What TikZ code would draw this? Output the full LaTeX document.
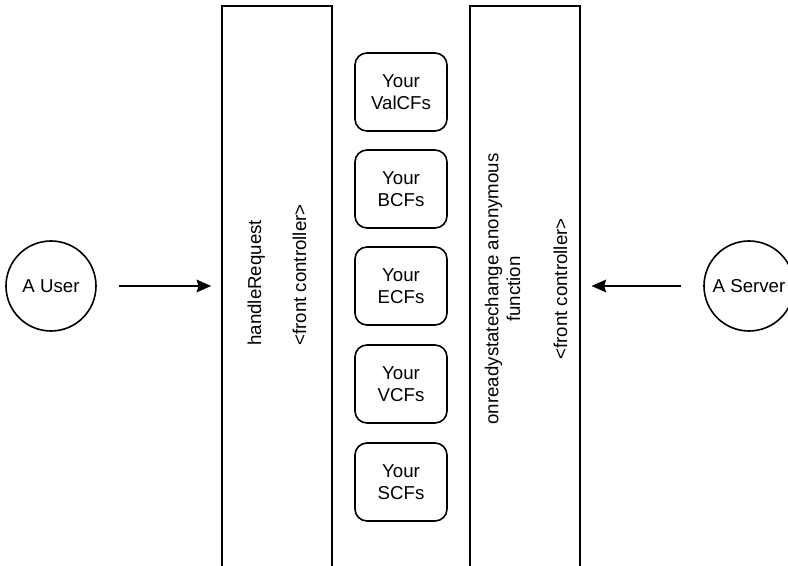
\documentclass[tikz,border=0pt]{standalone}
\usepackage{fontspec}
\setmainfont{Liberation Sans}
\usetikzlibrary{arrows.meta}

\begin{document}
\begin{tikzpicture}[x=0.75pt,y=0.75pt,line width=1.2pt,font=\fontsize{14}{16.25}\selectfont,
  bar/.style={draw,rectangle,minimum width=110*0.75pt,minimum height=575*0.75pt,inner sep=0pt},
  cfbox/.style={draw,rounded corners=9pt,minimum width=92*0.75pt,minimum height=78*0.75pt,align=center,inner sep=0pt},
  actor/.style={draw,circle,minimum size=90*0.75pt,inner sep=0pt},
  flow/.style={-{Stealth[length=11pt,width=9.5pt,inset=1.5pt]},line width=1.4pt}]
  \useasboundingbox (0,0) rectangle (788,566);
  % front controllers
  \node[bar] (hr) at (277,272.5) {};
  \node[rotate=90,align=left] (hrtext) at (277,291) {handleRequest\\[17.5pt]<front controller>};
  \node[bar] (ors) at (525,272.5) {};
  \node[rotate=90,align=center] (orstext) at (526,277) {onreadystatechange anonymous\\function\\[19pt]<front controller>};
  % the CF boxes in between
  \foreach \y/\n/\t in {474/valcf/ValCFs,377/bcf/BCFs,280/ecf/ECFs,182/vcf/VCFs,84/scf/SCFs}
    \node[cfbox] (\n) at (401,\y) {Your\\\t};
  % user and server
  \node[actor] (user) at (51,280) {A User};
  \node[actor] (server) at (749,280) {A Server};
  \draw[flow,shorten <=17pt,shorten >=7.5pt] (user) -- (user -| hr.west);
  \draw[flow,shorten <=16.5pt,shorten >=8pt] (server) -- (server -| ors.east);
\end{tikzpicture}
\end{document}
